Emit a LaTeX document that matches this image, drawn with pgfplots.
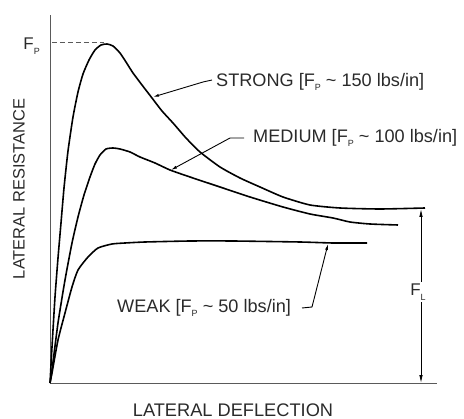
\documentclass[border=0pt]{standalone}
\usepackage{pgfplots}
\pgfplotsset{compat=1.18}
\usepackage{fontspec}
\setmainfont{Liberation Sans}
\usetikzlibrary{arrows.meta}
\newcommand{\sub}[1]{\raisebox{-0.5ex}{\fontsize{9}{9}\selectfont #1}}
\definecolor{axgray}{HTML}{5A5A5A}
\definecolor{txtgray}{HTML}{2A2A2A}
\begin{document}
\begin{tikzpicture}
\path[use as bounding box] (-50bp,-36bp) rectangle (414bp,383bp);
\begin{axis}[
  scale only axis, width=387bp, height=368bp,
  xmin=0, xmax=387, ymin=0, ymax=368,
  axis lines=left, axis line style={-, axgray, line width=1pt},
  xtick=\empty, ytick=\empty,
  clip=false,
  curve/.style={black, line width=1.6pt, smooth, tension=0.35, mark=none},
]
% STRONG
\addplot[curve] coordinates {(0,0) (2,36) (5,86) (8,125) (11,160) (14,195) (18,232) (23,266) (28,291) (33,309)
 (39,323) (45,333) (51,338) (57,339) (63,337) (70,330) (76,321) (83,310) (92,298) (102,285)
 (112,272) (123,260) (136,245) (150,231) (170,216) (190,205) (210,196) (233,186) (260,178)
 (290,175) (330,174) (375,175)};
% MEDIUM
\addplot[curve] coordinates {(0,0) (2,13) (8,60) (15,103) (22,140) (28,166) (34,188) (40,206) (45,219) (50,228)
 (56,234) (63,235) (70,234) (80,231) (90,226) (105,220) (120,213) (140,206) (170,196) (200,186)
 (233,176) (260,169) (283,165) (300,161) (320,159) (348,158)};
% WEAK
\addplot[curve] coordinates {(0,0) (2,10) (8,43) (15,70) (22,96) (28,113) (38,126) (48,135) (62,139)
 (75,140) (95,141) (140,142) (183,142) (250,141) (283,140) (317,140)};
% peak marker and F_L dimension
\draw[axgray, line width=1pt, dash pattern=on 5pt off 3pt] (axis cs:2,340) -- (axis cs:54,340);
\node[anchor=east, inner sep=0pt, text=txtgray] at (axis cs:-10,337) {\fontsize{17}{17}\selectfont F\sub{P}};
\draw[line width=0.8pt, {Latex[length=8pt,width=3.5pt]}-{Latex[length=8pt,width=3.5pt]}] (axis cs:371,174) -- (axis cs:371,0);
\node[fill=white, inner sep=1.5pt, text=txtgray] at (axis cs:368,91) {\fontsize{17}{17}\selectfont F\sub{L}};
% leaders
\draw[line width=0.9pt, -{Latex[length=6pt,width=3pt]}] (axis cs:162,303) -- (axis cs:153,301) -- (axis cs:103,286);
\draw[line width=0.9pt, -{Latex[length=6pt,width=3pt]}] (axis cs:194,245) -- (axis cs:180,245) -- (axis cs:121,213);
\draw[line width=0.9pt, -{Latex[length=6pt,width=3pt]}] (axis cs:252,75) -- (axis cs:262,76) -- (axis cs:278,139);
\node[anchor=west, inner sep=0pt, text=txtgray] at (axis cs:166,301) {\fontsize{18.2}{18}\selectfont STRONG [F\sub{P} \textasciitilde{} 150 lbs/in]};
\node[anchor=west, inner sep=0pt, text=txtgray] at (axis cs:203,245) {\fontsize{18.2}{18}\selectfont MEDIUM [F\sub{P} \textasciitilde{} 100 lbs/in]};
\node[anchor=west, inner sep=0pt, text=txtgray] at (axis cs:67,75) {\fontsize{18.2}{18}\selectfont WEAK [F\sub{P} \textasciitilde{} 50 lbs/in]};
\node[inner sep=0pt, text=txtgray] at (axis cs:183,-27) {\fontsize{18.3}{18}\selectfont LATERAL DEFLECTION};
\node[inner sep=0pt, rotate=90, text=txtgray] at (axis cs:-31,194) {\fontsize{16.5}{17}\selectfont LATERAL RESISTANCE};
\end{axis}
\end{tikzpicture}
\end{document}
